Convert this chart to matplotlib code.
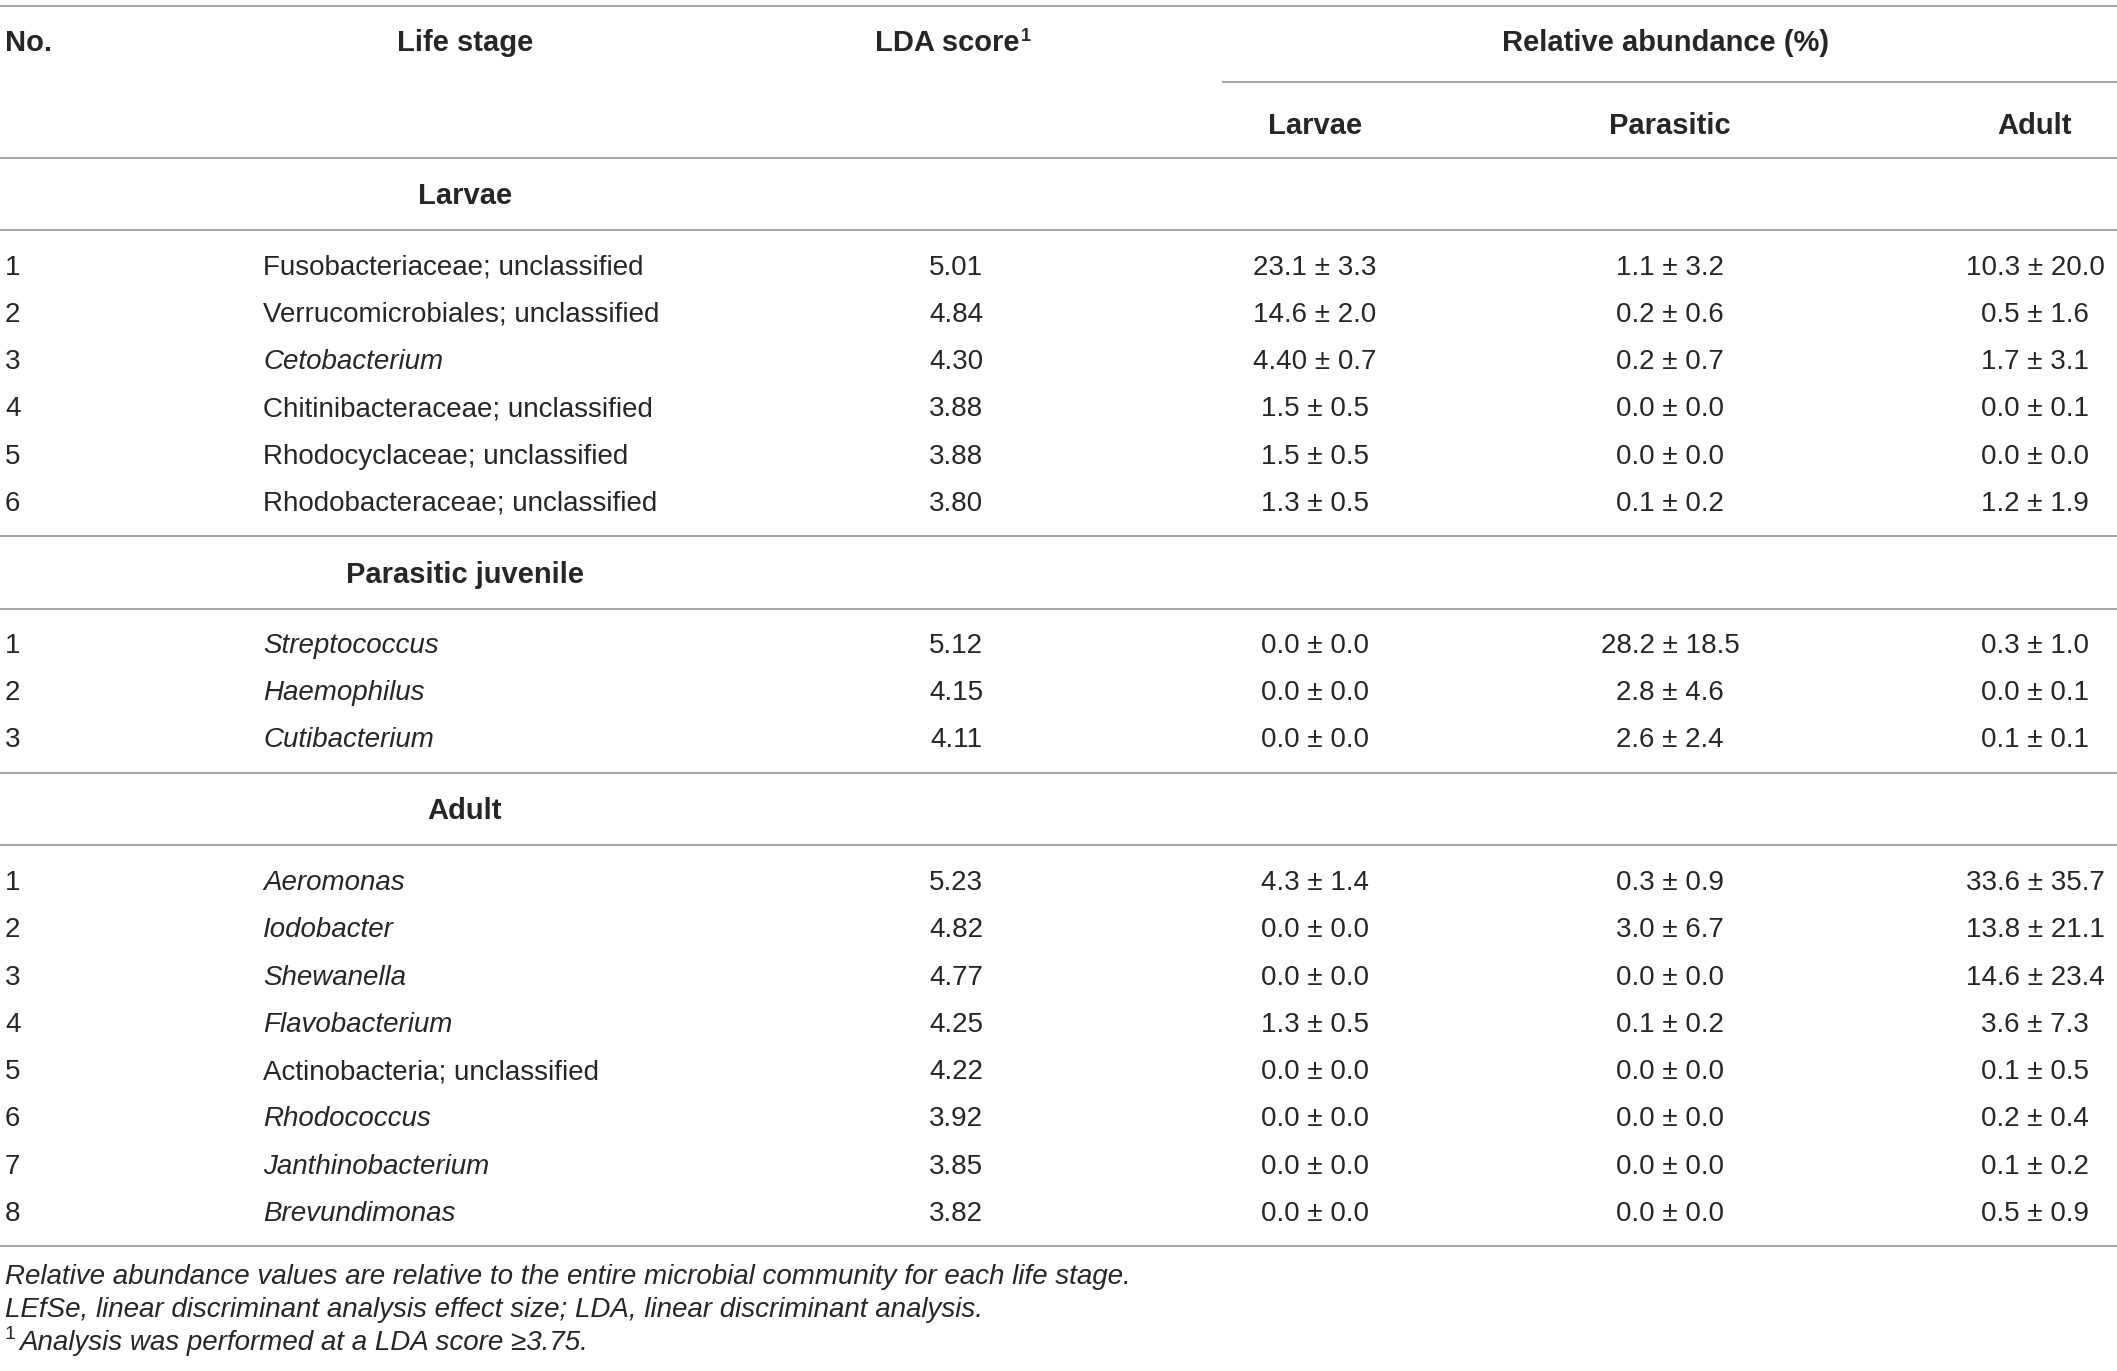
import matplotlib
matplotlib.use('Agg')
import matplotlib.pyplot as plt

plt.rcParams['font.family'] = ['Liberation Sans', 'DejaVu Sans']

# table data
groups = ['Larvae', 'Parasitic juvenile', 'Adult']
taxa = [
    ['Fusobacteriaceae; unclassified', 'Verrucomicrobiales; unclassified', 'Cetobacterium',
     'Chitinibacteraceae; unclassified', 'Rhodocyclaceae; unclassified', 'Rhodobacteraceae; unclassified'],
    ['Streptococcus', 'Haemophilus', 'Cutibacterium'],
    ['Aeromonas', 'Iodobacter', 'Shewanella', 'Flavobacterium', 'Actinobacteria; unclassified',
     'Rhodococcus', 'Janthinobacterium', 'Brevundimonas'],
]
italic = [
    [False, False, True, False, False, False],
    [True, True, True],
    [True, True, True, True, False, True, True, True],
]
lda = [
    ['5.01', '4.84', '4.30', '3.88', '3.88', '3.80'],
    ['5.12', '4.15', '4.11'],
    ['5.23', '4.82', '4.77', '4.25', '4.22', '3.92', '3.85', '3.82'],
]
ab_larvae = [
    ['23.1 ± 3.3', '14.6 ± 2.0', '4.40 ± 0.7', '1.5 ± 0.5', '1.5 ± 0.5', '1.3 ± 0.5'],
    ['0.0 ± 0.0', '0.0 ± 0.0', '0.0 ± 0.0'],
    ['4.3 ± 1.4', '0.0 ± 0.0', '0.0 ± 0.0', '1.3 ± 0.5', '0.0 ± 0.0', '0.0 ± 0.0', '0.0 ± 0.0', '0.0 ± 0.0'],
]
ab_parasitic = [
    ['1.1 ± 3.2', '0.2 ± 0.6', '0.2 ± 0.7', '0.0 ± 0.0', '0.0 ± 0.0', '0.1 ± 0.2'],
    ['28.2 ± 18.5', '2.8 ± 4.6', '2.6 ± 2.4'],
    ['0.3 ± 0.9', '3.0 ± 6.7', '0.0 ± 0.0', '0.1 ± 0.2', '0.0 ± 0.0', '0.0 ± 0.0', '0.0 ± 0.0', '0.0 ± 0.0'],
]
ab_adult = [
    ['10.3 ± 20.0', '0.5 ± 1.6', '1.7 ± 3.1', '0.0 ± 0.1', '0.0 ± 0.0', '1.2 ± 1.9'],
    ['0.3 ± 1.0', '0.0 ± 0.1', '0.1 ± 0.1'],
    ['33.6 ± 35.7', '13.8 ± 21.1', '14.6 ± 23.4', '3.6 ± 7.3', '0.1 ± 0.5', '0.2 ± 0.4', '0.1 ± 0.2', '0.5 ± 0.9'],
]
footnotes = [
    'Relative abundance values are relative to the entire microbial community for each life stage.',
    'LEfSe, linear discriminant analysis effect size; LDA, linear discriminant analysis.',
]
footnote3 = 'Analysis was performed at a LDA score ≥3.75.'

W, H = 2117, 1371
fig = plt.figure(figsize=(W / 100, H / 100), dpi=100)
ax = fig.add_axes([0, 0, 1, 1])
ax.set_xlim(0, W)
ax.set_ylim(H, 0)
ax.axis('off')

fs = 20
fs_b = 21
fw = 'normal'
tc = '#262626'
lc = '#8a8a8a'
lw = 1.1
col_no, col_name, col_stage = 5, 263, 465
col_lda, col_l, col_p, col_a = 956, 1315, 1670, 2035


def hline(y, x0=0, x1=W):
    ax.plot([x0, x1], [y, y], color=lc, lw=lw, solid_capstyle='butt')


def txt(x, y, s, ha='left', **kw):
    # y is the centre of the capitals
    kw.setdefault('fontweight', fw)
    size = kw.pop('size', fs)
    return ax.text(x, y + size * 0.5, s, ha=ha, va='baseline', fontsize=size,
                   color=tc, **kw)


def head(x, y, s, ha='center'):
    return txt(x, y, s, ha=ha, fontweight='bold', size=fs_b)


# header
hline(6)
head(col_no, 40.5, 'No.', ha='left')
head(col_stage, 40.5, 'Life stage')
lda_hdr = head(947, 40.5, 'LDA score')
head(1666, 40.5, 'Relative abundance (%)')
hline(82, 1222, W)
head(col_l, 123, 'Larvae')
head(col_p, 123, 'Parasitic')
head(col_a, 123, 'Adult')
hline(158)

section_y = [193, 572.4, 808.7]
first_row = [264.6, 642.6, 880.2]
step = 47.25
for g in range(len(groups)):
    hline(section_y[g] + 36.5)
    head(col_stage, section_y[g], groups[g])
    for i in range(len(taxa[g])):
        y = first_row[g] + i * step
        txt(col_no, y, str(i + 1))
        txt(col_name, y, taxa[g][i], style='italic' if italic[g][i] else 'normal')
        txt(col_lda, y, lda[g][i], ha='center')
        txt(col_l, y, ab_larvae[g][i], ha='center')
        txt(col_p, y, ab_parasitic[g][i], ha='center')
        txt(col_a, y, ab_adult[g][i], ha='center')
    yb = first_row[g] + (len(taxa[g]) - 1) * step + 35.5
    hline(yb)

for k, s in enumerate(footnotes):
    txt(col_no, 1274 + k * 33, s, style='italic')

fig.canvas.draw()
r = fig.canvas.get_renderer()
inv = ax.transData.inverted()
bb = lda_hdr.get_window_extent(r)
x_end = inv.transform((bb.x1, bb.y1))[0]
ax.text(x_end + 2, 41, '1', ha='left', va='baseline', fontsize=13,
        fontweight='bold', color=tc)
s1 = ax.text(col_no, 1339, '1', ha='left', va='baseline', fontsize=14,
             fontweight=fw, color=tc)
bb = s1.get_window_extent(r)
x_end = inv.transform((bb.x1, bb.y1))[0]
txt(x_end + 3, 1340, footnote3, style='italic')

fig.savefig('out.png', dpi=100)
